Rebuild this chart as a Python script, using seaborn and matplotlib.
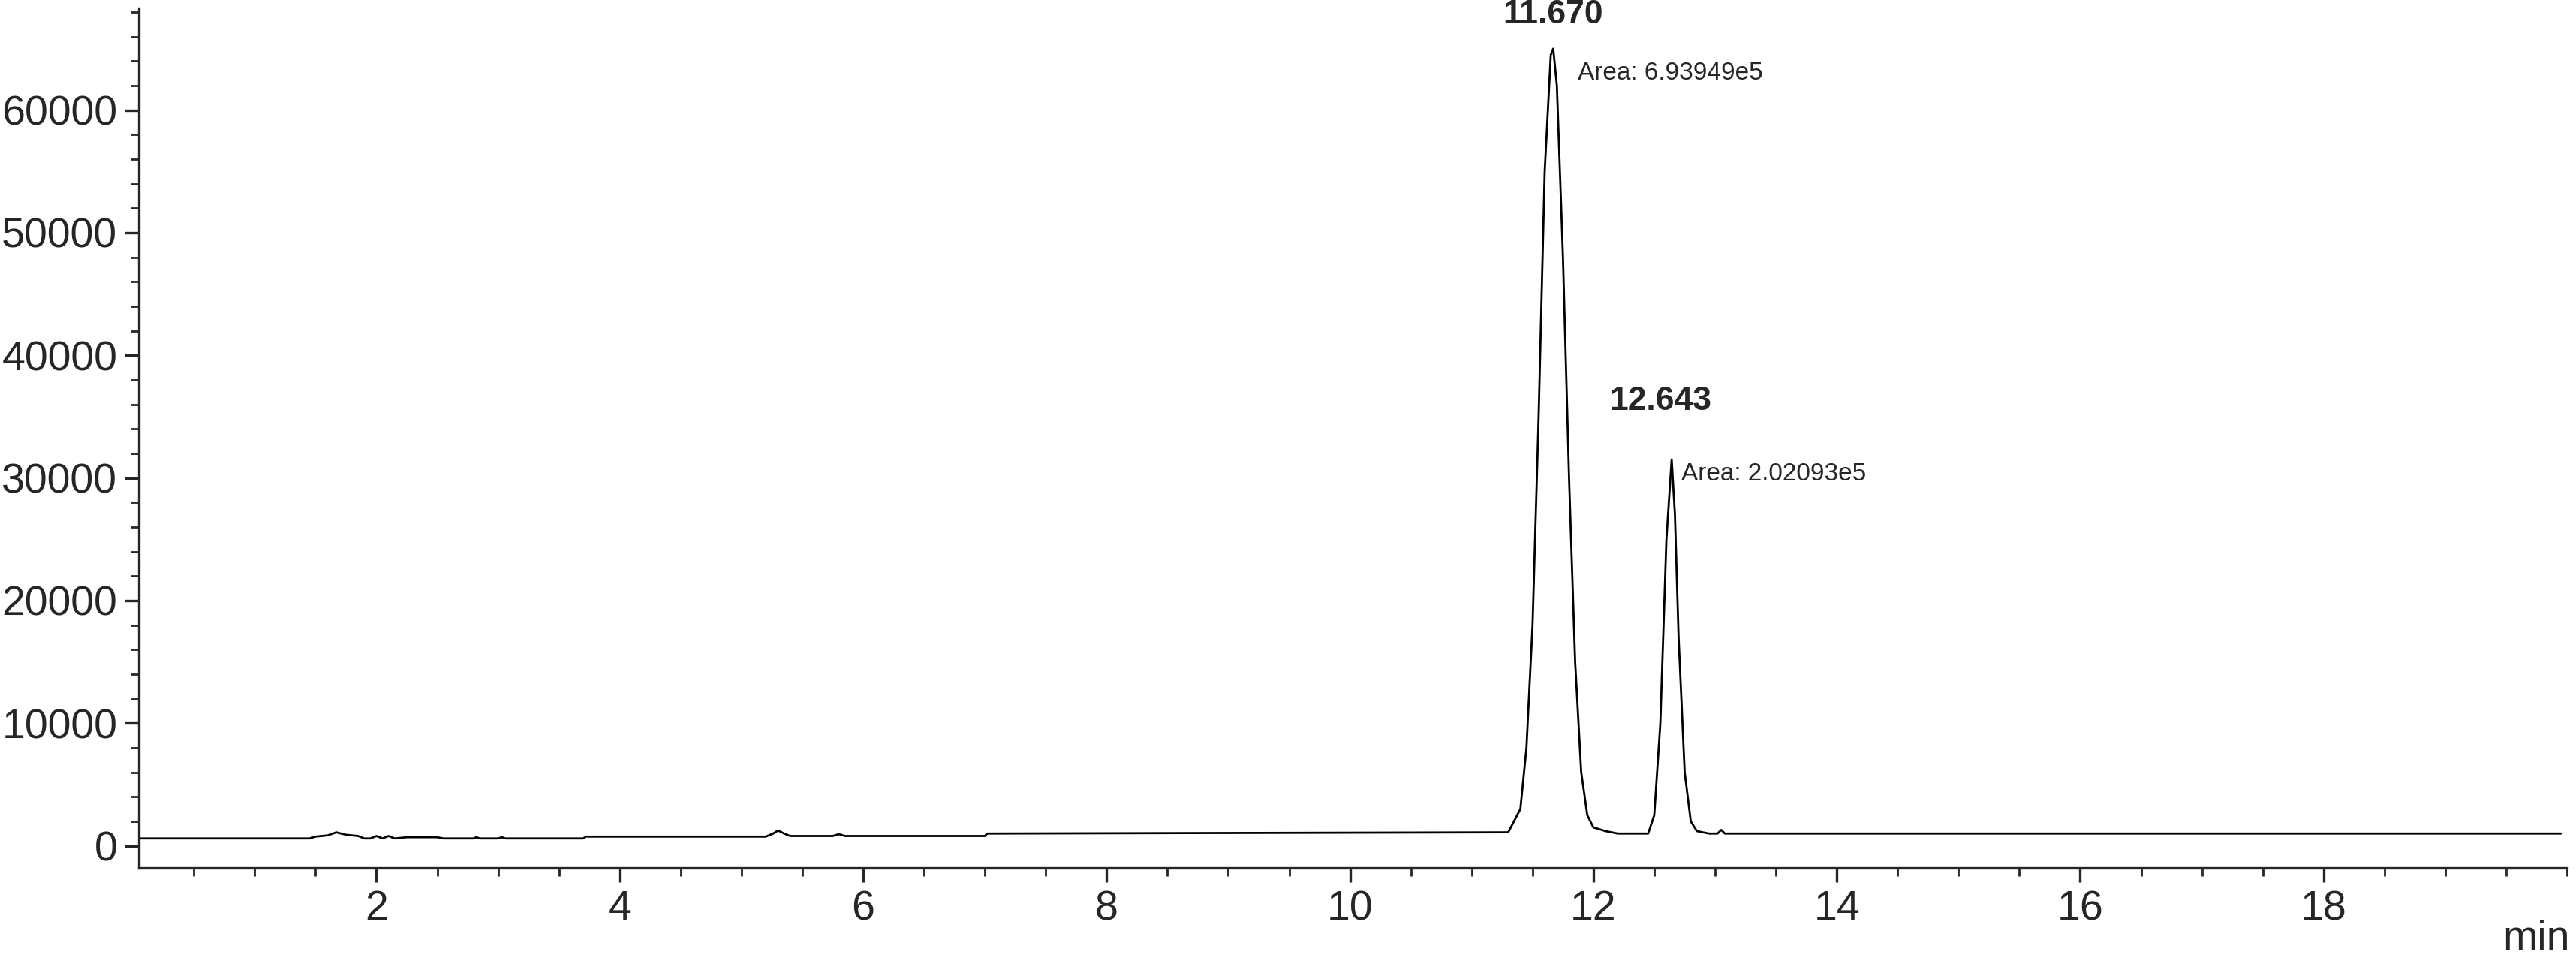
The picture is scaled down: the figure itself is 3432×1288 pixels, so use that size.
import numpy as np
import pandas as pd
import matplotlib.pyplot as plt
from matplotlib.ticker import MultipleLocator
import seaborn as sns

# retention time (min) and detector signal
time = [0.0, 1.45, 1.5, 1.6, 1.67, 1.75, 1.85, 1.9, 1.95, 2.0, 2.05, 2.1, 2.15, 2.25,
        2.5, 2.55, 2.8, 2.82, 2.85, 3.0, 3.03, 3.06, 3.7, 3.72, 5.2, 5.26, 5.3, 5.35,
        5.4, 5.75, 5.8, 5.85, 7.0, 7.02, 11.3, 11.4, 11.45, 11.5, 11.55, 11.6, 11.65,
        11.67, 11.7, 11.75, 11.8, 11.85, 11.9, 11.95, 12.0, 12.1, 12.2, 12.45, 12.5,
        12.55, 12.6, 12.643, 12.67, 12.7, 12.75, 12.8, 12.85, 12.95, 13.02, 13.05,
        13.08, 19.95]
signal = [600, 600, 750, 850, 1100, 900, 800, 600, 600, 800, 600, 800, 600, 700,
          700, 600, 600, 700, 600, 600, 700, 600, 600, 750, 750, 1000, 1250, 1000,
          800, 800, 950, 800, 800, 1000, 1100, 3000, 8000, 18000, 35000, 55000, 64500,
          65000, 62000, 48000, 30000, 15000, 6000, 2500, 1500, 1200, 1000, 1000, 2500,
          10000, 25000, 31500, 27000, 17000, 6000, 2000, 1200, 1000, 1000, 1300,
          1000, 1000]

peak_rt = ["11.670", "12.643"]
peak_area = ["Area: 6.93949e5", "Area: 2.02093e5"]

df = pd.DataFrame({"time": time, "signal": signal})

sns.set_style("ticks")
plt.rcParams['font.family'] = ['Liberation Sans', 'DejaVu Sans']

fig = plt.figure(figsize=(17.16, 6.44), dpi=200)
ax = fig.add_axes([0.054, 0.1025, 0.9425, 0.889])
sns.lineplot(data=df, x="time", y="signal", sort=False, color="black", linewidth=1.0, ax=ax)

ax.set_xlim(0.05, 20.0)
ax.set_ylim(-1800, 68300)
ax.set_xticks([2, 4, 6, 8, 10, 12, 14, 16, 18])
ax.xaxis.set_minor_locator(MultipleLocator(0.5))
ax.set_yticks([0, 10000, 20000, 30000, 40000, 50000, 60000])
ax.yaxis.set_minor_locator(MultipleLocator(2000))
ax.tick_params(which="major", length=7, width=1.2, labelsize=20)
ax.tick_params(which="minor", length=4, width=1.0)
ax.set_xlabel("")
ax.set_ylabel("")
sns.despine(ax=ax)
ax.spines["left"].set_linewidth(1.2)
ax.spines["bottom"].set_linewidth(1.2)
ax.text(19.75, -6000, "min", fontsize=20, ha="center", va="top")

narrow = ['Liberation Sans Narrow', 'Liberation Sans', 'DejaVu Sans']
ax.text(11.67, 66500, peak_rt[0], fontsize=16, fontweight="bold", ha="center", va="bottom", family=narrow)
ax.text(11.87, 63000, peak_area[0], fontsize=12, ha="left", va="center", family=narrow)
ax.text(12.55, 35000, peak_rt[1], fontsize=16, fontweight="bold", ha="center", va="bottom", family=narrow)
ax.text(12.72, 30300, peak_area[1], fontsize=12, ha="left", va="center", family=narrow)

fig.savefig("out.png", dpi=200)
